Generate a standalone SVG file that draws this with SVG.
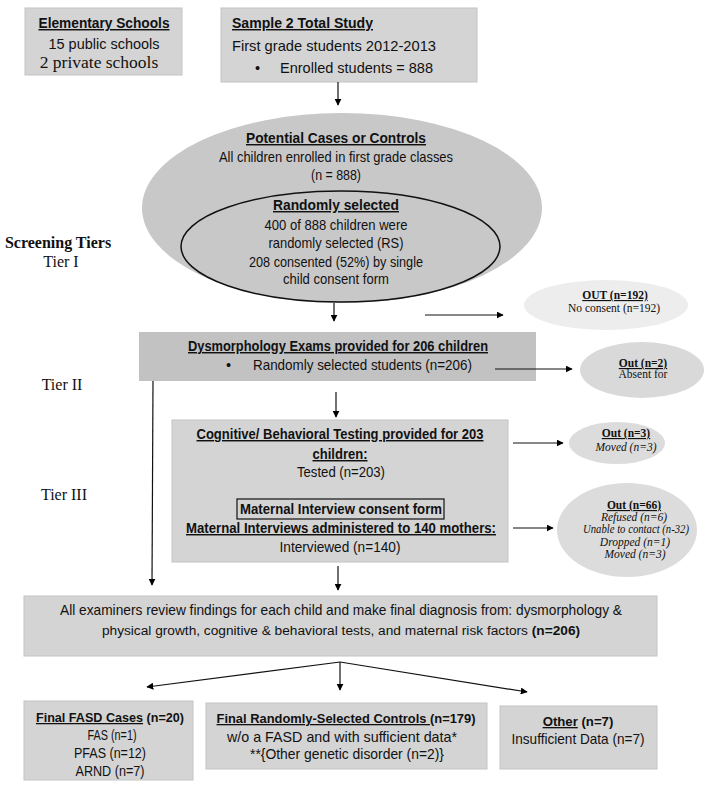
<svg xmlns="http://www.w3.org/2000/svg" width="718" height="789" viewBox="0 0 718 789">
<defs>
<marker id="ah" viewBox="0 0 10 10" refX="9" refY="5" markerWidth="7" markerHeight="7" markerUnits="userSpaceOnUse" orient="auto">
<path d="M0,0 L10,5 L0,10 z" fill="#000"/>
</marker>
<style>
.sans{font-family:"Liberation Sans",Arial,sans-serif;font-size:14.5px;fill:#111}
.serif{font-family:"Liberation Serif","Times New Roman",serif;fill:#111}
.b{font-weight:bold}
.u{text-decoration:underline}
.i{font-style:italic}
.mid{text-anchor:middle}
.box{fill:#d4d4d4;stroke:#c4c4c4;stroke-width:1}
.conn line{stroke:#111;stroke-width:1.2;fill:none;marker-end:url(#ah)}
</style>
</defs>
<rect width="718" height="789" fill="#fff"/>

<g id="tiers" class="serif">
<text x="58" y="248" class="mid b" font-size="16">Screening Tiers</text>
<text x="61" y="267" class="mid" font-size="16">Tier I</text>
<text x="62" y="390" class="mid" font-size="16">Tier II</text>
<text x="64" y="500" class="mid" font-size="16">Tier III</text>
</g>

<g id="n-elementary">
<rect class="box" x="25" y="8" width="157" height="67"/>
<text class="sans b u mid" x="104" y="28" textLength="131" lengthAdjust="spacingAndGlyphs">Elementary Schools</text>
<text class="sans mid" x="104" y="49" textLength="111" lengthAdjust="spacingAndGlyphs">15 public schools</text>
<text class="serif mid" x="99" y="68" font-size="17.5">2 private schools</text>
</g>

<g id="n-sample">
<rect class="box" x="221" y="8" width="256" height="74"/>
<text class="sans b u" x="232" y="28" textLength="141" lengthAdjust="spacingAndGlyphs">Sample 2 Total Study</text>
<text class="sans" x="232" y="51" textLength="204" lengthAdjust="spacingAndGlyphs">First grade students 2012-2013</text>
<text class="sans" x="255" y="73">•</text>
<text class="sans" x="280" y="73" textLength="153" lengthAdjust="spacingAndGlyphs">Enrolled students = 888</text>
</g>

<g id="n-potential">
<ellipse cx="342" cy="208" rx="200" ry="95" fill="#c8c8c8"/>
<text class="sans b u mid" x="336" y="143" textLength="180" lengthAdjust="spacingAndGlyphs">Potential Cases or Controls</text>
<text class="sans mid" x="336" y="162" textLength="234" lengthAdjust="spacingAndGlyphs">All children enrolled in first grade classes</text>
<text class="sans mid" x="336" y="180" textLength="50" lengthAdjust="spacingAndGlyphs">(n = 888)</text>
</g>

<g id="n-random">
<ellipse cx="340.5" cy="246.5" rx="159.5" ry="55.5" fill="#c8c8c8" stroke="#111" stroke-width="1.5"/>
<text class="sans b u mid" x="336" y="210" textLength="126" lengthAdjust="spacingAndGlyphs">Randomly selected</text>
<text class="sans mid" x="336" y="230" textLength="143" lengthAdjust="spacingAndGlyphs">400 of 888 children were</text>
<text class="sans mid" x="336" y="248" textLength="135" lengthAdjust="spacingAndGlyphs">randomly selected (RS)</text>
<text class="sans mid" x="336" y="267" textLength="174" lengthAdjust="spacingAndGlyphs">208 consented (52%) by single</text>
<text class="sans mid" x="336" y="284" textLength="106" lengthAdjust="spacingAndGlyphs">child consent form</text>
</g>

<g id="n-out192">
<ellipse cx="606" cy="305" rx="82" ry="25" fill="#ededed"/>
<text class="serif b u mid" x="615" y="299" font-size="11.5">OUT (n=192)</text>
<text class="serif mid" x="614" y="312" font-size="11.5">No consent (n=192)</text>
</g>

<g id="n-dysmorph">
<rect x="139" y="332" width="397" height="49" fill="#c2c2c2"/>
<text class="sans b u mid" x="338" y="351" textLength="300" lengthAdjust="spacingAndGlyphs">Dysmorphology Exams provided for 206 children</text>
<text class="sans" x="226" y="370">•</text>
<text class="sans" x="253" y="370" textLength="219" lengthAdjust="spacingAndGlyphs">Randomly selected students (n=206)</text>
</g>

<g id="n-out2">
<ellipse cx="642" cy="370" rx="62" ry="28" fill="#d9d9d9"/>
<text class="serif b u mid" x="643" y="367" font-size="11.5">Out (n=2)</text>
<text class="serif mid" x="643" y="378" font-size="11.5">Absent for</text>
</g>

<g id="n-cognitive">
<rect class="box" x="172" y="420" width="336" height="142"/>
<text class="sans b u mid" x="340" y="439" textLength="287" lengthAdjust="spacingAndGlyphs">Cognitive/ Behavioral Testing provided for 203</text>
<text class="sans b u mid" x="340" y="459" textLength="55" lengthAdjust="spacingAndGlyphs">children:</text>
<text class="sans mid" x="341" y="477" textLength="88" lengthAdjust="spacingAndGlyphs">Tested (n=203)</text>
<rect x="237" y="499" width="207" height="20" fill="none" stroke="#111" stroke-width="1.2"/>
<text class="sans b mid" x="341" y="514" textLength="202" lengthAdjust="spacingAndGlyphs">Maternal Interview consent form</text>
<text class="sans b u mid" x="341" y="533" textLength="310" lengthAdjust="spacingAndGlyphs">Maternal Interviews administered to 140 mothers:</text>
<text class="sans mid" x="340" y="552" textLength="121" lengthAdjust="spacingAndGlyphs">Interviewed (n=140)</text>
</g>

<g id="n-out3">
<ellipse cx="617" cy="443" rx="48" ry="21" fill="#dcdcdc"/>
<text class="serif b u mid" x="626" y="437" font-size="11.5">Out (n=3)</text>
<text class="serif i mid" x="626" y="451" font-size="11.5">Moved (n=3)</text>
</g>

<g id="n-out66">
<ellipse cx="627" cy="530" rx="70" ry="47" fill="#dcdcdc"/>
<text class="serif b u mid" x="634" y="509" font-size="11.5">Out (n=66)</text>
<text class="serif i mid" x="634" y="521" font-size="11.5">Refused (n=6)</text>
<text class="serif i mid" x="636" y="533" font-size="11.5" textLength="106" lengthAdjust="spacingAndGlyphs">Unable to contact (n-32)</text>
<text class="serif i mid" x="635" y="546" font-size="11.5">Dropped (n=1)</text>
<text class="serif i mid" x="635" y="558" font-size="11.5">Moved (n=3)</text>
</g>

<g id="n-review">
<rect class="box" x="24" y="596" width="633" height="60"/>
<text class="sans mid" x="341" y="615" textLength="562" lengthAdjust="spacingAndGlyphs">All examiners review findings for each child and make final diagnosis from:  dysmorphology &amp;</text>
<text class="sans mid" x="341" y="635" style="font-size:13.7px">physical growth, cognitive &amp; behavioral tests, and maternal risk factors <tspan class="b">(n=206)</tspan></text>
</g>

<g id="n-fasd">
<rect class="box" x="24" y="701" width="169" height="79"/>
<text class="sans b mid" x="110" y="722" style="font-size:12.6px"><tspan class="u">Final FASD Cases</tspan> (n=20)</text>
<text class="sans mid" x="112" y="740" textLength="49" lengthAdjust="spacingAndGlyphs">FAS (n=1)</text>
<text class="sans mid" x="110" y="758" textLength="72" lengthAdjust="spacingAndGlyphs">PFAS (n=12)</text>
<text class="sans mid" x="110" y="776" textLength="69" lengthAdjust="spacingAndGlyphs">ARND (n=7)</text>
</g>

<g id="n-controls">
<rect class="box" x="206" y="703" width="281" height="66"/>
<text class="sans b mid" x="346" y="723" style="font-size:12.9px"><tspan class="u">Final Randomly-Selected Controls </tspan>(n=179)</text>
<text class="sans mid" x="342" y="742" textLength="230" lengthAdjust="spacingAndGlyphs">w/o a FASD and with sufficient data*</text>
<text class="sans mid" x="347" y="759" textLength="194" lengthAdjust="spacingAndGlyphs">**{Other genetic disorder (n=2)}</text>
</g>

<g id="n-other">
<rect class="box" x="500" y="706" width="157" height="63"/>
<text class="sans b mid" x="578" y="726" style="font-size:13.2px"><tspan class="u">Other</tspan> (n=7)</text>
<text class="sans mid" x="578" y="744" textLength="133" lengthAdjust="spacingAndGlyphs">Insufficient Data (n=7)</text>
</g>

<g id="connectors" class="conn">
<line x1="338" y1="82" x2="338" y2="105"/>
<line x1="334" y1="303" x2="334" y2="321"/>
<line x1="425" y1="315" x2="503" y2="315"/>
<line x1="495" y1="369" x2="572" y2="369"/>
<line x1="336" y1="392" x2="336" y2="417"/>
<line x1="513" y1="443" x2="563" y2="443"/>
<line x1="513" y1="528" x2="553" y2="528"/>
<line x1="153" y1="381" x2="152" y2="585"/>
<line x1="338" y1="566" x2="338" y2="590"/>
<line x1="340" y1="662" x2="147" y2="687"/>
<line x1="340" y1="662" x2="340" y2="690"/>
<line x1="340" y1="662" x2="527" y2="692"/>
</g>
</svg>
